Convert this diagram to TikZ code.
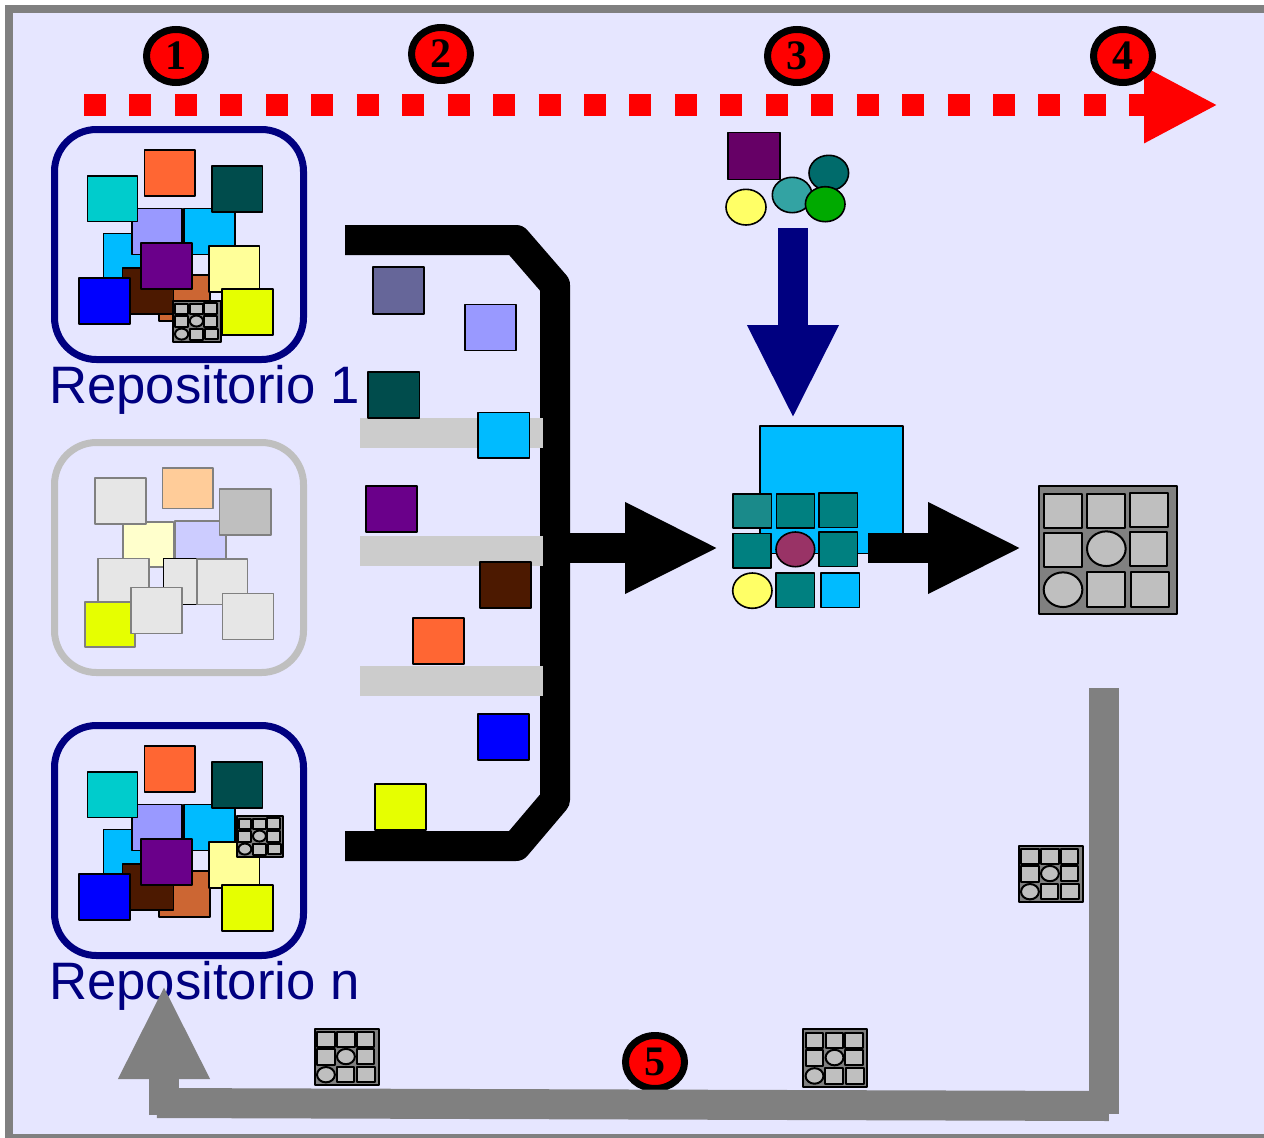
\documentclass[tikz,border=0pt]{standalone}
\usepackage{fontspec}
\setmainfont{Liberation Sans}
\newfontfamily\badgefont{Liberation Serif}[BoldFont={Liberation Serif Bold}]
\usetikzlibrary{arrows.meta,shapes.geometric}
\definecolor{bgl}{HTML}{E6E6FF}
\definecolor{frm}{HTML}{808080}
\definecolor{nav}{HTML}{000080}
\definecolor{cteal}{HTML}{00CCCC}
\definecolor{corg}{HTML}{FF6633}
\definecolor{cdkt}{HTML}{004C4C}
\definecolor{csky}{HTML}{00BBFF}
\definecolor{clav}{HTML}{9999FF}
\definecolor{cbrn}{HTML}{CC6633}
\definecolor{cdbr}{HTML}{4C1900}
\definecolor{cpur}{HTML}{6A008A}
\definecolor{cblu}{HTML}{0000FF}
\definecolor{clye}{HTML}{FFFF99}
\definecolor{cyel}{HTML}{E6FF00}
\definecolor{cslt}{HTML}{666699}
\definecolor{cbar}{HTML}{CCCCCC}
\definecolor{cg1}{HTML}{E6E6E6}
\definecolor{cg2}{HTML}{BFBFBF}
\definecolor{cpch}{HTML}{FFCC99}
\definecolor{cply}{HTML}{FFFFCC}
\definecolor{cpla}{HTML}{CCCCFF}
\definecolor{ctl}{HTML}{008080}
\definecolor{ctl2}{HTML}{1A8A8A}
\definecolor{cmag}{HTML}{993366}
\definecolor{cbye}{HTML}{FFFF66}
\definecolor{cplm}{HTML}{660066}
\definecolor{ctd}{HTML}{006B6B}
\definecolor{ctm}{HTML}{33A3A3}
\definecolor{cgrn}{HTML}{00AA00}
\tikzset{
  boxk/.style={draw=black,line width=1.6pt,line join=round},
  boxg/.style={draw=frm,line width=1.6pt,line join=round},
  repobox/.style={line width=7pt,rounded corners=42pt},
  badge/.style={ellipse,draw=black,fill=red,line width=7pt,minimum width=59pt,minimum height=53pt,inner sep=0pt,font=\badgefont\bfseries\fontsize{42}{42}\selectfont,text=black},
  repolabel/.style={anchor=base west,inner sep=0pt,text=nav,font=\fontsize{52.7}{60}\selectfont},
  bararrow/.style={line width=30pt},
  bighead/.style={-{Triangle[length=94pt,width=84.5pt]}}
}
\newcommand{\bx}[5]{\path[boxk,fill=#5] (#1,#2) rectangle (#3,#4);}
\newcommand{\gx}[5]{\path[boxg,fill=#5] (#1,#2) rectangle (#3,#4);}
\newcommand{\el}[5]{\path[boxk,fill=#5] ({(#1+#3)/2},{(#2+#4)/2}) ellipse ({(#3-#1)/2} and {(#4-#2)/2});}
% x1 y1 x2 y2 line width
\newcommand{\minigrid}[5]{%
  \begin{scope}[shift={(#1,#2)},xscale={(#3-#1)/416},yscale={(#4-#2)/384},line width=#5,line join=round]
    \path[draw=black,fill=frm] (0,0) rectangle (416,384);
    \foreach \xa/\ya/\xb/\yb in {17/24/131/127,146/24/260/127,273/22/387/125,15/141/129/243,273/139/386/241,144/260/258/364,278/260/392/363}
      \path[draw=black,fill=cg2] (\xa,\ya) rectangle (\xb,\yb);
    \path[draw=black,fill=cg2] (203,189) ellipse (58 and 52);
    \path[draw=black,fill=cg2] (73,312) ellipse (58 and 52);
  \end{scope}}
\newcommand{\repoA}[1]{%
  \begin{scope}[yshift=#1]
  \bx{103.3}{233.3}{154}{279.3}{csky}
  \bx{131.7}{208.3}{181.7}{254.3}{clav}
  \bx{184}{208.3}{234.7}{254.3}{csky}
  \bx{87.3}{175.7}{137.5}{221.3}{cteal}
  \bx{144.3}{150}{195}{195.7}{corg}
  \bx{211.7}{165.7}{262.3}{211.7}{cdkt}
  \bx{159}{275}{209.7}{320.7}{cbrn}
  \bx{122.3}{267.7}{173.3}{313.7}{cdbr}
  \bx{78.7}{277.7}{129.7}{323.7}{cblu}
  \bx{140.7}{242.7}{191.7}{288.7}{cpur}
  \bx{208.7}{246}{259.3}{291.7}{clye}
  \bx{222}{288.7}{272.7}{334.7}{cyel}
  \end{scope}}
\begin{document}
\begin{tikzpicture}[x=1pt,y=-1pt]
\useasboundingbox (0,0) rectangle (1264,1138);
\fill[white] (0,0) rectangle (1264,1138);
\fill[bgl] (9,9) rectangle (1264,1138);
\draw[frm,line width=8pt] (1264,9) -- (9,9) -- (9,1138) -- (1264,1138);

% timeline
\coordinate (timeA) at (84,105);
\coordinate (timeB) at (1218,105);
\draw[red,line width=22pt,dash pattern=on 22pt off 23.45pt,-{Triangle[length=74pt,width=71pt]}] (timeA) -- (timeB);

\node[badge] (b1) at (176,56) {1};
\node[badge] (b2) at (441,54) {2};
\node[badge] (b3) at (797,56) {3};
\node[badge] (b4) at (1123,56) {4};
\node[badge] (b5) at (655,1062) {5};

% repositories
\draw[nav,repobox] (54.5,129.5) rectangle (303.5,359.5);
\repoA{0pt}
\minigrid{173.3}{301}{220.7}{341.7}{2pt}
\node[repolabel] (r1) at (49,403) {Repositorio 1};

\draw[nav,repobox] (54.5,725.5) rectangle (303.5,955.5);
\repoA{-596pt}
\minigrid{236.7}{816}{283.3}{856.7}{2pt}
\node[repolabel] (rn) at (49,999) {Repositorio n};

\draw[cg2,repobox] (54.5,442.5) rectangle (303.5,672.5);
\gx{123}{521.7}{173.3}{567}{cply}
\gx{174.7}{521}{225.7}{567}{cpla}
\gx{95}{477.7}{146}{523.7}{cg1}
\gx{162.3}{467.7}{213}{508.3}{cpch}
\gx{219.3}{489}{270.7}{534.7}{cg2}
\bx{163.3}{558.3}{214}{604.3}{cg1}
\gx{98}{558.3}{148.7}{604.3}{cg1}
\gx{196.7}{559}{247.3}{604.3}{cg1}
\gx{84.7}{601.7}{135}{647}{cyel}
\gx{130.7}{587.3}{181.7}{633.3}{cg1}
\gx{222.3}{593.3}{273.3}{639.3}{cg1}

% conveyor
\coordinate (cA) at (345,240);
\coordinate (cB) at (516,240);
\coordinate (cC) at (555,285);
\coordinate (cD) at (555,800);
\coordinate (cE) at (516,846);
\coordinate (cF) at (345,846);
\draw[black,bararrow,line join=round] (cA) -- (cB) -- (cC) -- (cD) -- (cE) -- (cF);
\coordinate (a1s) at (565,548);
\coordinate (a1e) at (719,548);
\draw[black,bararrow,bighead] (a1s) -- (a1e);
\fill[cbar] (360,418) rectangle (543,448);
\fill[cbar] (360,536) rectangle (543,566);
\fill[cbar] (360,666) rectangle (543,696);
\bx{373}{266.7}{424}{313.7}{cslt}
\bx{465}{304.3}{516}{350.3}{clav}
\bx{368}{371.7}{419.3}{418}{cdkt}
\bx{478}{412.3}{529.3}{458}{csky}
\bx{366}{486}{417}{532}{cpur}
\bx{480}{562}{531}{608}{cdbr}
\bx{413}{618}{464}{664}{corg}
\bx{478}{714}{529}{760}{cblu}
\bx{375}{784}{426}{830}{cyel}

% materials
\bx{728}{132.5}{780}{179.3}{cplm}
\el{809}{155.3}{848.6}{190.7}{ctd}
\el{772.3}{177.3}{812}{212.7}{ctm}
\el{805.4}{186.7}{845}{221.7}{cgrn}
\el{726}{189.3}{766}{225}{cbye}
\coordinate (a2s) at (793,228);
\coordinate (a2e) at (793,419);
\draw[nav,bararrow,bighead] (a2s) -- (a2e);

% assembly
\bx{760}{426}{902.7}{553.3}{csky}
\bx{733}{493.7}{771.3}{528}{ctl2}
\bx{776.3}{494}{814.3}{528}{ctl}
\bx{819}{493}{857.3}{527.3}{ctl}
\bx{733}{533.3}{771}{567.7}{ctl}
\el{776}{532}{814.7}{566.7}{cmag}
\bx{819}{532}{857.3}{566.3}{ctl}
\el{732.7}{573}{772}{608.3}{cbye}
\bx{775.7}{573}{814.3}{607.3}{ctl}
\bx{820.7}{573}{859.3}{607.3}{csky}
\coordinate (a3s) at (868,548);
\coordinate (a3e) at (1022,548);
\draw[black,bararrow,bighead] (a3s) -- (a3e);
\minigrid{1038.7}{485.7}{1177.3}{613.7}{2pt}

% return path
\coordinate (gA) at (1104,688);
\coordinate (gB) at (1104,1114);
\coordinate (gC) at (1109,1106);
\coordinate (gD) at (157,1103);
\coordinate (gE) at (164,1115);
\coordinate (gF) at (164,985);
\draw[frm,bararrow] (gA) -- (gB);
\draw[frm,bararrow] (gC) -- (gD);
\draw[frm,bararrow,bighead] (gE) -- (gF);
\minigrid{1018.7}{845.7}{1082.7}{902.3}{2pt}
\minigrid{803.3}{1029.3}{867.3}{1086.7}{2pt}
\minigrid{314.7}{1028.7}{378.7}{1085.3}{2pt}
\end{tikzpicture}
\end{document}
